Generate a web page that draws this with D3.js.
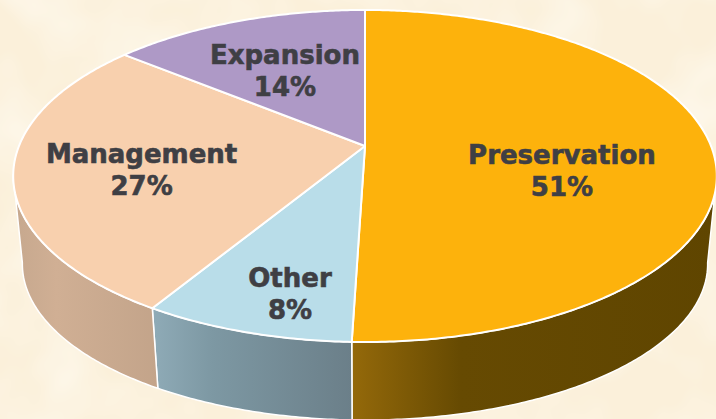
<!DOCTYPE html>
<html>
<head>
<meta charset="utf-8">
<script src="https://cdn.jsdelivr.net/npm/d3@7"></script>
<style>
    html, body { margin: 0; padding: 0; background: #fbf1dc; overflow: hidden; }
    svg { display: block; }
    text { font-family: "DejaVu Sans", sans-serif; font-weight: bold; fill: #3f3f44; stroke: #3f3f44; stroke-width: 0.6px; }
</style>
</head>
<body>
<script>
// Data, clockwise from twelve o'clock
var categories = ["Preservation", "Other", "Management", "Expansion"];
var values = [50.5, 8.2, 27.2, 14.1];

// Styles
var topColors = ["#fdb20c", "#b9dde9", "#f8d0ae", "#ae99c6"];
var wallColors = [
    ["#94690a", "#664a02", "#5f4500"],
    ["#8fabb7", "#7d98a3", "#6b7f89"],
    ["#c6a88e", "#d0af94", "#c3a48a"],
    ["#8c7a9e", "#8c7a9e", "#8c7a9e"]
];
var labelNudge = [[-11, 23], [-9, 45], [-15, 7], [1, 4]];

var width = 716, height = 419;

// Tilted disc: a homography of the unit circle, so the apex sits above the ellipse centre
var disc = { x: 365, y: 146, a: 346, b: 160.6, k: 0.1807, midY: 176 };
var wall = { scaleX: 0.974, scaleY: 0.94, midY: 264, from: 100, to: 260 };

var project = function(angle, r) {
    var u = r * Math.sin(angle);
    var v = -r * Math.cos(angle);
    var w = 1 - disc.k * v;
    return [disc.x + disc.a * u / w, disc.y + disc.b * v / w];
};

var projectLow = function(angle) {
    var p = project(angle, 1);
    return [disc.x + wall.scaleX * (p[0] - disc.x), wall.midY + wall.scaleY * (p[1] - disc.midY)];
};

var rimAngles = function(start, end) {
    var n = Math.max(2, Math.ceil((end - start) / 0.01));
    return d3.range(n + 1).map(function(i) { return start + (end - start) * i / n; });
};

var svg = d3.select("body").append("svg")
    .attr("width", width)
    .attr("height", height);

var defs = svg.append("defs");

// Mottled paper background
var paper = defs.append("filter").attr("id", "paper")
    .attr("x", 0).attr("y", 0).attr("width", "100%").attr("height", "100%");
paper.append("feTurbulence")
    .attr("type", "fractalNoise")
    .attr("baseFrequency", 0.012)
    .attr("numOctaves", 3)
    .attr("seed", 7);
paper.append("feColorMatrix")
    .attr("values", "0 0 0 0 1  0 0 0 0 0.98  0 0 0 0 0.92  0 0 0 1.1 -0.4");

svg.append("rect").attr("width", width).attr("height", height).attr("fill", "#fbf0da");
svg.append("rect").attr("width", width).attr("height", height).attr("filter", "url(#paper)");

var pie = d3.pie().sort(null).value(function(d) { return d; });
var slices = pie(values);

var line = d3.line();

wallColors.forEach(function(colors, i) {
    var gradient = defs.append("linearGradient").attr("id", "wall" + i);
    colors.forEach(function(c, j) {
        gradient.append("stop")
            .attr("offset", (j === 1 ? 30 : j * 50) + "%")
            .attr("stop-color", c);
    });
});

// Side walls, only the part of each slice that faces the viewer
var wallFrom = wall.from * Math.PI / 180;
var wallTo = wall.to * Math.PI / 180;

svg.append("g").selectAll("path")
    .data(slices.filter(function(d) { return d.endAngle > wallFrom && d.startAngle < wallTo; }))
    .join("path")
    .attr("d", function(d) {
        var angles = rimAngles(Math.max(d.startAngle, wallFrom), Math.min(d.endAngle, wallTo));
        var upper = angles.map(function(a) { return project(a, 1); });
        var lower = angles.slice().reverse().map(projectLow);
        return line(upper.concat(lower)) + "Z";
    })
    .attr("fill", function(d) { return "url(#wall" + d.index + ")"; })
    .attr("stroke", "#ffffff")
    .attr("stroke-width", 1.5)
    .attr("stroke-linejoin", "round");

// Top face
svg.append("g").selectAll("path")
    .data(slices)
    .join("path")
    .attr("d", function(d) {
        var rim = rimAngles(d.startAngle, d.endAngle).map(function(a) { return project(a, 1); });
        return line([[disc.x, disc.y]].concat(rim)) + "Z";
    })
    .attr("fill", function(d) { return topColors[d.index]; })
    .attr("stroke", "#ffffff")
    .attr("stroke-width", 2)
    .attr("stroke-linejoin", "round");

// Labels
var labels = svg.append("g").selectAll("text")
    .data(slices)
    .join("text")
    .attr("text-anchor", "middle")
    .attr("font-size", 26)
    .attr("transform", function(d) {
        var p = project((d.startAngle + d.endAngle) / 2, 0.6);
        var nudge = labelNudge[d.index];
        return "translate(" + (p[0] + nudge[0]) + "," + (p[1] + nudge[1]) + ")";
    });

labels.append("tspan")
    .attr("x", 0)
    .attr("y", -7)
    .text(function(d) { return categories[d.index]; });

labels.append("tspan")
    .attr("x", 0)
    .attr("y", 25)
    .text(function(d) { return Math.round(d.value) + "%"; });
</script>
</body>
</html>
